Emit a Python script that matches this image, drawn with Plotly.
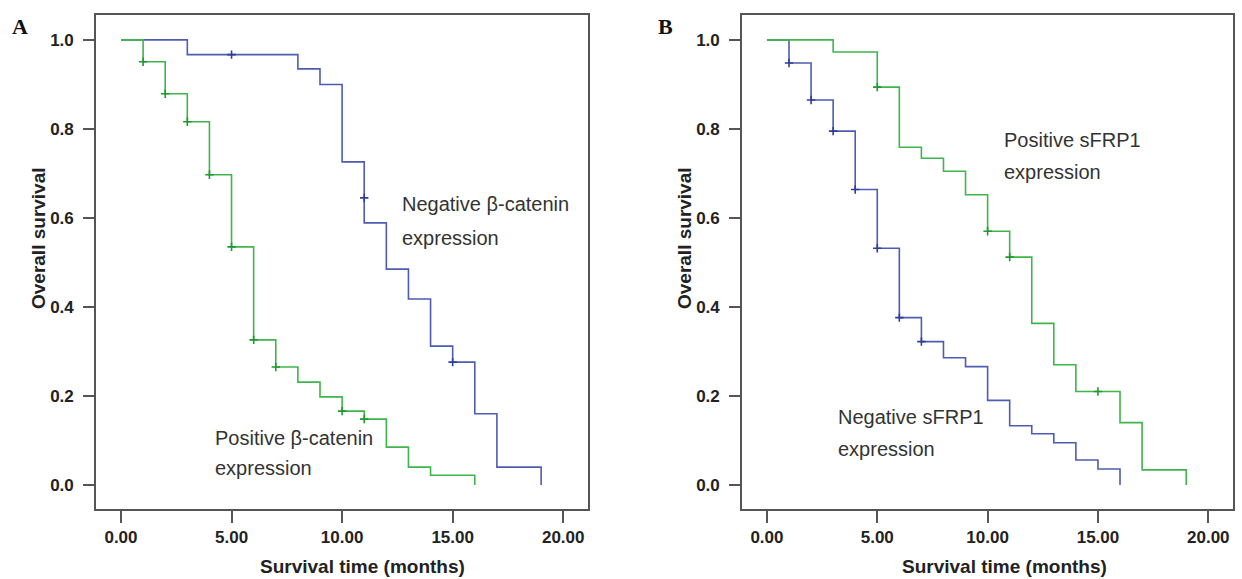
import plotly.graph_objects as go

# ---------------- data ----------------
# Panel A (beta-catenin)
a_neg_t = [0, 3, 8, 9, 10, 11, 12, 13, 14, 15, 16, 17, 19]
a_neg_s = [1.0, 0.967, 0.935, 0.90, 0.726, 0.589, 0.485, 0.418, 0.312, 0.276, 0.16, 0.04, 0.0]
a_neg_cens_t = [5, 11, 15]
a_neg_cens_s = [0.967, 0.645, 0.276]

a_pos_t = [0, 1, 2, 3, 4, 5, 6, 7, 8, 9, 10, 11, 12, 13, 14, 16]
a_pos_s = [1.0, 0.951, 0.879, 0.816, 0.697, 0.535, 0.326, 0.265, 0.231, 0.198, 0.166, 0.148, 0.085, 0.04, 0.022, 0.0]
a_pos_cens_t = [1, 2, 3, 4, 5, 6, 7, 10, 11]
a_pos_cens_s = [0.951, 0.879, 0.816, 0.697, 0.535, 0.326, 0.265, 0.166, 0.148]

# Panel B (sFRP1)
b_pos_t = [0, 3, 5, 6, 7, 8, 9, 10, 11, 12, 13, 14, 16, 17, 19]
b_pos_s = [1.0, 0.973, 0.894, 0.759, 0.734, 0.705, 0.652, 0.57, 0.512, 0.363, 0.27, 0.21, 0.14, 0.034, 0.0]
b_pos_cens_t = [5, 10, 11, 15]
b_pos_cens_s = [0.894, 0.57, 0.512, 0.21]

b_neg_t = [0, 1, 2, 3, 4, 5, 6, 7, 8, 9, 10, 11, 12, 13, 14, 15, 16]
b_neg_s = [1.0, 0.948, 0.865, 0.795, 0.664, 0.532, 0.376, 0.322, 0.286, 0.266, 0.19, 0.133, 0.115, 0.095, 0.056, 0.036, 0.0]
b_neg_cens_t = [1, 2, 3, 4, 5, 6, 7]
b_neg_cens_s = [0.948, 0.865, 0.795, 0.664, 0.532, 0.376, 0.322]

x_ticks = [0, 5, 10, 15, 20]
y_ticks = [0.0, 0.2, 0.4, 0.6, 0.8, 1.0]

BLUE = "#4e5cb2"
BLUE_D = "#2e3c9c"
GREEN = "#3fb54b"
GREEN_D = "#1f9a30"

fig = go.Figure()


def add_curve(t, s, ct, cs, color, dcolor, xa, ya):
    fig.add_trace(go.Scatter(x=t, y=s, mode="lines", line=dict(color=color, width=1.6, shape="hv"),
                             xaxis=xa, yaxis=ya, showlegend=False, hoverinfo="skip"))
    fig.add_trace(go.Scatter(x=ct, y=cs, mode="markers",
                             marker=dict(symbol="cross-thin", size=6, line=dict(color=dcolor, width=1.6)),
                             xaxis=xa, yaxis=ya, showlegend=False, hoverinfo="skip"))


add_curve(a_neg_t, a_neg_s, a_neg_cens_t, a_neg_cens_s, BLUE, BLUE_D, "x", "y")
add_curve(a_pos_t, a_pos_s, a_pos_cens_t, a_pos_cens_s, GREEN, GREEN_D, "x", "y")
add_curve(b_neg_t, b_neg_s, b_neg_cens_t, b_neg_cens_s, BLUE, BLUE_D, "x2", "y2")
add_curve(b_pos_t, b_pos_s, b_pos_cens_t, b_pos_cens_s, GREEN, GREEN_D, "x2", "y2")

W, H = 1242, 579
tickfont = dict(family="Liberation Sans, Arial", size=17, color="#222", weight="bold")
frame = "#555555"


def xaxis(dom):
    return dict(domain=dom, range=[-1.13, 21.12], tickvals=x_ticks, tickformat=".2f",
                ticks="outside", ticklen=12, tickwidth=1.6, tickcolor=frame,
                showline=True, linecolor=frame, linewidth=1.6, mirror=True,
                showgrid=False, zeroline=False, tickfont=tickfont)


def yaxis():
    return dict(domain=[1 - 509 / H, 1 - 15 / H], range=[-0.054, 1.056], tickvals=y_ticks, tickformat=".1f",
                ticks="outside", ticklen=11, tickwidth=1.6, tickcolor=frame, ticklabelstandoff=6,
                showline=True, linecolor=frame, linewidth=1.6, mirror=True,
                showgrid=False, zeroline=False, tickfont=tickfont)


xa1 = xaxis([96 / W, 588 / W]); xa1["anchor"] = "y"
xa2 = xaxis([742 / W, 1233 / W]); xa2["anchor"] = "y2"
ya1 = yaxis(); ya1["anchor"] = "x"
ya2 = yaxis(); ya2["anchor"] = "x2"

titlefont = dict(family="Liberation Sans, Arial", size=19, color="#222", weight="bold")
labfont = dict(family="Liberation Sans, Arial", size=20, color="#333")
letterfont = dict(family="Liberation Serif, Times New Roman", size=22, color="#111", weight="bold")

ann = []


def paper(x, y, text, font, xanchor="center", textangle=0):
    ann.append(dict(x=x / W, y=1 - y / H, xref="paper", yref="paper", text=text, showarrow=False,
                    font=font, xanchor=xanchor, yanchor="middle", textangle=textangle))


paper(362, 566, "Survival time (months)", titlefont)
paper(1004, 566, "Survival time (months)", titlefont)
paper(38, 238, "Overall survival", titlefont, textangle=-90)
paper(684, 238, "Overall survival", titlefont, textangle=-90)
paper(20, 27, "A", letterfont)
paper(665, 27, "B", letterfont)

paper(400, 204, "Negative β-catenin", labfont, "left")
paper(400, 238, "expression", labfont, "left")
paper(213, 438, "Positive β-catenin", labfont, "left")
paper(213, 468, "expression", labfont, "left")
paper(1002, 140, "Positive sFRP1", labfont, "left")
paper(1002, 172, "expression", labfont, "left")
paper(836, 417, "Negative sFRP1", labfont, "left")
paper(836, 449, "expression", labfont, "left")

fig.update_layout(width=W, height=H, margin=dict(l=0, r=0, t=0, b=0),
                  paper_bgcolor="white", plot_bgcolor="white",
                  xaxis=xa1, xaxis2=xa2, yaxis=ya1, yaxis2=ya2, annotations=ann)

fig.write_html("out.html", config={"displayModeBar": False},
               post_script="document.body.style.margin='0px';document.body.style.overflow='hidden';")
